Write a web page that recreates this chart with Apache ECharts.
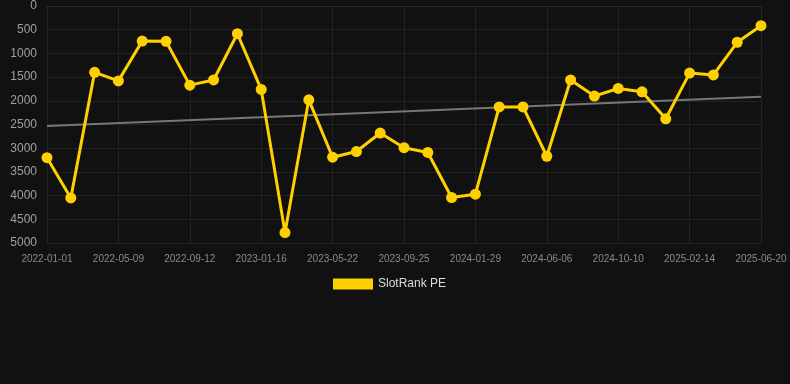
<!DOCTYPE html>
<html>
<head>
<meta charset="utf-8">
<script src="https://cdn.jsdelivr.net/npm/echarts@6/dist/echarts.min.js"></script>
<style>
	html, body { margin: 0; padding: 0; background: #111111; }
	#chart { width: 790px; height: 384px; }
</style>
</head>
<body>
<div id="chart"></div>
<script>
var dates = [
	"2022-01-01", "2022-02-13", "2022-03-27", "2022-05-09", "2022-06-20", "2022-08-01",
	"2022-09-12", "2022-10-24", "2022-12-05", "2023-01-16", "2023-02-27", "2023-04-10",
	"2023-05-22", "2023-07-03", "2023-08-14", "2023-09-25", "2023-11-06", "2023-12-18",
	"2024-01-29", "2024-03-11", "2024-04-24", "2024-06-06", "2024-07-18", "2024-08-29",
	"2024-10-10", "2024-11-21", "2025-01-03", "2025-02-14", "2025-03-28", "2025-05-09",
	"2025-06-20"
];

var rankPE = [
	3200, 4050, 1400, 1580, 740, 745,
	1670, 1560, 585, 1760, 4780, 1980,
	3190, 3070, 2680, 2990, 3090, 4040,
	3970, 2130, 2130, 3170, 1560, 1900,
	1740, 1810, 2380, 1415, 1455, 765,
	415
];

// trend line, read at both ends only
var trendEnds = [2530, 1915];

var yTicks = { min: 0, max: 5000, step: 500 };

var trend = dates.map(function(d, i) {
	if (i == 0) return trendEnds[0];
	if (i == dates.length - 1) return trendEnds[1];
	return null;
});

var chart = echarts.init(document.getElementById("chart"), null, { renderer: "canvas" });

chart.setOption({
	backgroundColor: "#111111",
	animation: false,
	textStyle: { fontFamily: "Liberation Sans, Arial, sans-serif" },
	grid: { left: 47, right: 29, top: 6, bottom: 141 },
	legend: {
		top: 278,
		left: 333,
		padding: 0,
		data: ["SlotRank PE"],
		itemWidth: 40,
		itemHeight: 11,
		itemGap: 10,
		icon: "rect",
		textStyle: { color: "#dddddd", fontSize: 12 }
	},
	xAxis: {
		type: "category",
		data: dates,
		boundaryGap: false,
		axisLine: { show: true, lineStyle: { color: "#2a2a2a" } },
		axisTick: { show: false },
		axisLabel: { interval: 2, color: "#8a8a8a", fontSize: 10, margin: 11 },
		splitLine: { show: true, interval: 2, lineStyle: { color: "#222222" } }
	},
	yAxis: {
		type: "value",
		inverse: true,
		min: yTicks.min,
		max: yTicks.max,
		interval: yTicks.step,
		axisLine: { show: false },
		axisTick: { show: false },
		axisLabel: {
			color: "#a0a0a0",
			fontSize: 12,
			margin: 10,
			formatter: function(v) { return String(v); }
		},
		splitLine: { show: true, lineStyle: { color: "#222222" } }
	},
	series: [
		{
			name: "SlotRank PE",
			type: "line",
			data: rankPE,
			color: "#ffd000",
			symbol: "circle",
			symbolSize: 11,
			lineStyle: { width: 3, color: "#ffd000" },
			itemStyle: { color: "#ffd000" },
			z: 3
		},
		{
			name: "trend",
			type: "line",
			data: trend,
			connectNulls: true,
			symbol: "none",
			lineStyle: { width: 2, color: "#777777" },
			z: 2
		}
	]
});
</script>
</body>
</html>
